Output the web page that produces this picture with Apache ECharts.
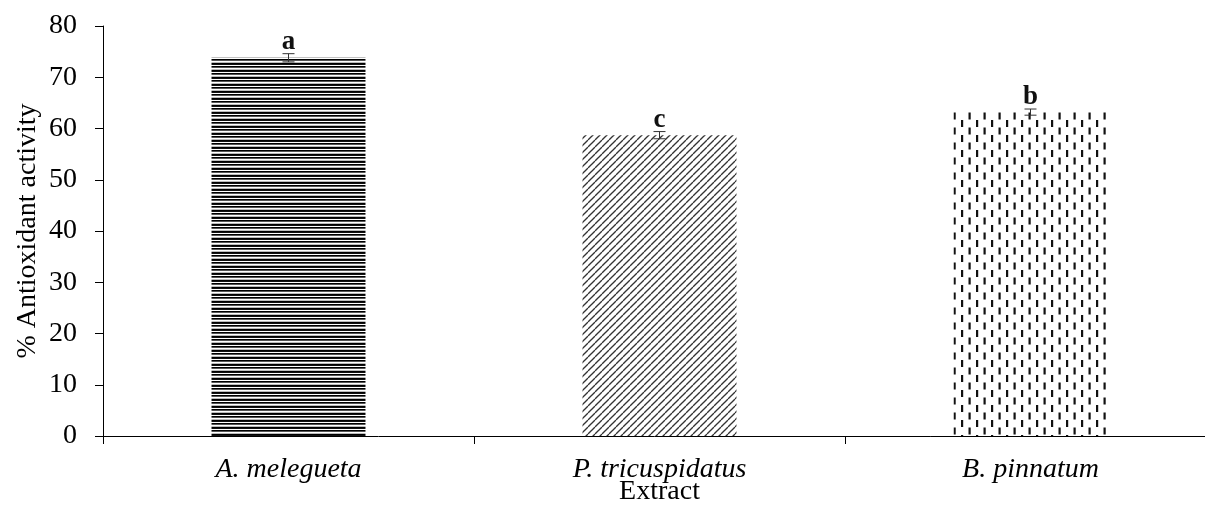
<!DOCTYPE html>
<html>
<head>
<meta charset="utf-8">
<script src="https://cdn.jsdelivr.net/npm/echarts@6/dist/echarts.min.js"></script>
<style>
html,body{margin:0;padding:0;background:#fff;}
#chart{width:1205px;height:527px;}
</style>
</head>
<body>
<div id="chart"></div>
<script>
var categories = ['A. melegueta', 'P. tricuspidatus', 'B. pinnatum'];
var activity = [73.8, 58.7, 63.2];
var errors = [0.8, 0.7, 0.6];
var letters = ['a', 'c', 'b'];
var yTicks = [0, 10, 20, 30, 40, 50, 60, 70, 80];

function makeCanvas(w, h, draw) {
  var c = document.createElement('canvas');
  c.width = w; c.height = h;
  var ctx = c.getContext('2d');
  ctx.fillStyle = '#fff';
  ctx.fillRect(0, 0, w, h);
  draw(ctx);
  return c;
}
// horizontal stripes
var patH = makeCanvas(4, 7, function (ctx) {
  var rows = ['#000', '#111', '#fff', '#000', '#555', '#fff', '#bbb'];
  rows.forEach(function (c, i) { ctx.fillStyle = c; ctx.fillRect(0, i, 4, 1); });
});
// diagonal stripes "/"
var patD = makeCanvas(7, 7, function (ctx) {
  ctx.strokeStyle = '#333';
  ctx.lineWidth = 1.3;
  for (var k = -7; k <= 14; k += 7) {
    ctx.beginPath();
    ctx.moveTo(k, 7);
    ctx.lineTo(k + 7, 0);
    ctx.stroke();
  }
});
// staggered vertical dashes
var patV = makeCanvas(15, 15, function (ctx) {
  ctx.fillStyle = '#111';
  ctx.fillRect(1, 0, 2.2, 7);
  ctx.fillRect(8.5, 7.5, 2.2, 7);
});
var patterns = [patH, patD, patV];

var chart = echarts.init(document.getElementById('chart'), null, {renderer: 'canvas'});
var font = '"Liberation Serif", "Times New Roman", serif';

chart.setOption({
  backgroundColor: '#fff',
  animation: false,
  grid: {left: 103, top: 26, width: 1113, height: 410, containLabel: false, outerBoundsMode: 'none'},
  xAxis: {
    type: 'category',
    data: categories,
    name: 'Extract',
    nameLocation: 'middle',
    nameGap: 42,
    nameMoveOverlap: false,
    nameTextStyle: {fontFamily: font, fontSize: 28, color: '#000'},
    axisLine: {show: true, lineStyle: {color: '#000', width: 1}},
    axisTick: {show: true, length: 8, lineStyle: {color: '#000'}},
    axisLabel: {fontFamily: font, fontSize: 28, fontStyle: 'italic', color: '#000', margin: 20},
    splitLine: {show: false}
  },
  yAxis: {
    type: 'value',
    min: 0, max: 80, interval: 10,
    name: '% Antioxidant activity',
    nameLocation: 'middle',
    nameGap: 61,
    nameMoveOverlap: false,
    nameTextStyle: {fontFamily: font, fontSize: 28, color: '#000'},
    axisLine: {show: true, lineStyle: {color: '#000', width: 1}},
    axisTick: {show: true, length: 8, lineStyle: {color: '#000'}},
    axisLabel: {fontFamily: font, fontSize: 28, color: '#000', margin: 26,
      formatter: function (v) { return yTicks.indexOf(v) >= 0 ? String(v) : ''; }},
    splitLine: {show: false}
  },
  series: [
    {
      type: 'bar',
      barWidth: '41.5%',
      data: activity.map(function (v, i) {
        return {value: v, itemStyle: {color: {image: patterns[i], repeat: 'repeat'}}};
      })
    },
    {
      type: 'custom',
      z: 10,
      data: activity.map(function (v, i) { return [i, v, errors[i], letters[i]]; }),
      renderItem: function (params, api) {
        var idx = api.value(0), v = api.value(1), e = api.value(2);
        var top = api.coord([idx, v + e]);
        var bot = api.coord([idx, v - e]);
        var hw = 6;
        var st = {stroke: '#333', lineWidth: 1};
        return {
          type: 'group',
          children: [
            {type: 'line', shape: {x1: top[0], y1: top[1], x2: bot[0], y2: bot[1]}, style: st},
            {type: 'line', shape: {x1: top[0] - hw, y1: top[1], x2: top[0] + hw, y2: top[1]}, style: st},
            {type: 'line', shape: {x1: bot[0] - hw, y1: bot[1], x2: bot[0] + hw, y2: bot[1]}, style: st},
            {type: 'text', style: {
              text: letters[params.dataIndex],
              x: top[0], y: top[1] + 2,
              align: 'center', verticalAlign: 'bottom',
              font: 'bold 27px ' + font, fill: '#111'
            }}
          ]
        };
      }
    }
  ]
});
</script>
</body>
</html>
